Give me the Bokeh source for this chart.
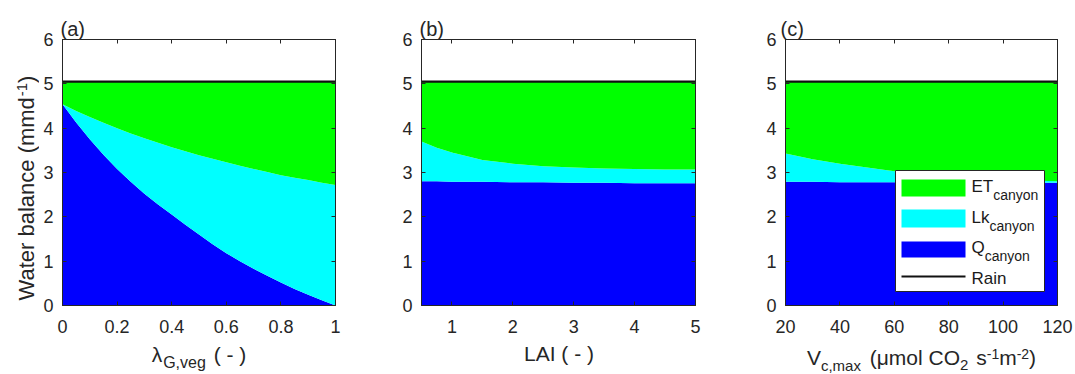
import math
from bokeh.plotting import figure
from bokeh.layouts import row, column
from bokeh.models import (Range1d, FixedTicker, LinearAxis, Label, BoxAnnotation,
                          ColumnDataSource, Title)
from bokeh.embed import file_html
from bokeh.resources import INLINE

# ---------------- data ----------------
RAIN = 5.05

x_a = [0.0, 0.05, 0.1, 0.15, 0.2, 0.25, 0.3, 0.35, 0.4, 0.45, 0.5,
       0.55, 0.6, 0.65, 0.7, 0.75, 0.8, 0.85, 0.9, 0.95, 1.0]
q_a = [4.54, 4.13, 3.75, 3.40, 3.08, 2.79, 2.52, 2.28, 2.05, 1.82, 1.60,
       1.38, 1.18, 1.00, 0.83, 0.67, 0.52, 0.37, 0.24, 0.12, 0.00]
lk_a = [0.00, 0.26, 0.50, 0.72, 0.92, 1.09, 1.25, 1.39, 1.52, 1.66, 1.79,
        1.93, 2.05, 2.15, 2.25, 2.34, 2.42, 2.51, 2.59, 2.65, 2.72]
et_a = [0.50, 0.65, 0.79, 0.92, 1.04, 1.16, 1.27, 1.37, 1.47, 1.56, 1.65,
        1.73, 1.81, 1.89, 1.96, 2.03, 2.10, 2.16, 2.21, 2.27, 2.32]

x_b = [0.5, 0.75, 1.0, 1.5, 2.0, 2.5, 3.0, 3.5, 4.0, 4.5, 5.0]
q_b = [2.80, 2.80, 2.79, 2.79, 2.78, 2.78, 2.77, 2.77, 2.76, 2.76, 2.76]
lk_b = [0.90, 0.76, 0.66, 0.49, 0.42, 0.36, 0.34, 0.32, 0.32, 0.31, 0.31]
et_b = [1.34, 1.48, 1.59, 1.76, 1.84, 1.90, 1.93, 1.95, 1.96, 1.97, 1.97]

x_c = [20, 30, 40, 50, 60, 70, 80, 90, 100, 110, 120]
q_c = [2.79, 2.79, 2.78, 2.78, 2.78, 2.78, 2.78, 2.77, 2.77, 2.77, 2.77]
lk_c = [0.64, 0.51, 0.42, 0.33, 0.25, 0.19, 0.14, 0.11, 0.08, 0.05, 0.03]
et_c = [1.61, 1.74, 1.84, 1.93, 2.01, 2.07, 2.12, 2.16, 2.19, 2.22, 2.24]

yticks = [0, 1, 2, 3, 4, 5, 6]
ytick_labels = ["0", "1", "2", "3", "4", "5", "6"]
xticks_a = [0, 0.2, 0.4, 0.6, 0.8, 1]
xtick_labels_a = ["0", "0.2", "0.4", "0.6", "0.8", "1"]
xticks_b = [1, 2, 3, 4, 5]
xtick_labels_b = ["1", "2", "3", "4", "5"]
xticks_c = [20, 40, 60, 80, 100, 120]
xtick_labels_c = ["20", "40", "60", "80", "100", "120"]

panel_tags = ["(a)", "(b)", "(c)"]
legend_main = ["ET", "Lk", "Q", "Rain"]
legend_sub = ["canyon", "canyon", "canyon", ""]

# ---------------- style ----------------
FONT = "Liberation Sans"
TXT = "#262626"
C_Q, C_LK, C_ET = "#0000FF", "#00FFFF", "#00FF00"
B_TOP, FRAME_H, B_BOT = 39, 266, 36
MID_H = B_TOP + FRAME_H + B_BOT
PAGE_H = 374
BOT_H = PAGE_H - MID_H
TOTAL_W = 1074
MID = 0.35  # height of the text's middle above its baseline, in em

# Arial / Liberation Sans advance widths (per 1000 em)
AW = {' ': 278, '(': 333, ')': 333, ',': 278, '-': 333, '.': 278, '1': 556, '2': 556,
      'A': 667, 'C': 722, 'E': 667, 'G': 778, 'I': 278, 'L': 556, 'O': 778, 'Q': 778,
      'R': 722, 'T': 611, 'V': 667, 'W': 944, 'a': 556, 'b': 556, 'c': 500, 'd': 556,
      'e': 556, 'g': 556, 'i': 222, 'k': 500, 'l': 222, 'm': 833, 'n': 556, 'o': 556,
      'r': 333, 's': 500, 't': 278, 'v': 500, 'x': 500, 'y': 500, 'λ': 500, 'μ': 577}


def tw(s, size):
    return sum(AW.get(ch, 556) for ch in s) * size / 1000.0


def add_rich(p, x, y, pieces, x_off=0, y_off=0, center=False, vertical=False, color=TXT):
    """Place a run of text pieces whose common baseline passes through (x, y).
    pieces: (text, font px, raise px, extra gap px after)"""
    total = sum(tw(t, s) + g for t, s, d, g in pieces)
    cur = -total / 2.0 if center else 0.0
    for t, s, d, g in pieces:
        stripped = t.lstrip(" ")
        cur += tw(t[:len(t) - len(stripped)], s)
        if stripped:
            kw = dict(x=x, y=y, text=stripped, text_font=FONT, text_font_size=f"{s}px",
                      text_color=color, text_align="left", text_baseline="middle")
            up = d + MID * s
            if vertical:
                lab = Label(x_offset=x_off - up, y_offset=y_off + cur, angle=math.pi / 2, **kw)
            else:
                lab = Label(x_offset=x_off + cur, y_offset=y_off + up, **kw)
            p.add_layout(lab)
        cur += tw(stripped, s) + g


def text_fig(w, h, top=0, bottom=0):
    f = figure(width=w, height=h, x_range=Range1d(0, w), y_range=Range1d(0, h - top - bottom),
               x_axis_type=None, y_axis_type=None, min_border=0,
               min_border_top=top, min_border_bottom=bottom, title=None,
               output_backend="svg", toolbar_location=None,
               background_fill_color="white", border_fill_color="white")
    f.outline_line_color = None
    return f


def mirror_axis(ticks):
    return LinearAxis(ticker=FixedTicker(ticks=ticks),
                      major_label_overrides={t: "" for t in ticks},
                      major_label_text_font_size="0px", major_label_standoff=0,
                      major_tick_in=4, major_tick_out=0, minor_tick_line_color=None,
                      axis_line_color=TXT, major_tick_line_color=TXT)


def make_panel(width, left, right, x, q, lk, et, xr, xticks, xlabels, tag, tag_dx):
    p = figure(width=width, height=MID_H, x_range=Range1d(*xr), y_range=Range1d(0, 6),
               output_backend="svg", toolbar_location=None,
               title=Title(text=tag, align="left", offset=tag_dx, standoff=0,
                           text_font=FONT, text_font_size="20px", text_color=TXT,
                           text_font_style="normal", vertical_align="bottom"),
               min_border_left=left, min_border_right=right,
               min_border_top=B_TOP, min_border_bottom=B_BOT,
               background_fill_color="white", border_fill_color="white")
    p.grid.visible = False
    p.outline_line_color = TXT
    p.outline_line_width = 1

    src = ColumnDataSource(dict(x=x, q=q, lk=lk, et=et))
    p.varea_stack(["q", "lk", "et"], x="x", color=[C_Q, C_LK, C_ET], source=src)
    p.line(x, [RAIN] * len(x), line_color="#111111", line_width=2.2)

    for ax in (p.xaxis[0], p.yaxis[0]):
        ax.major_tick_in = 4
        ax.major_tick_out = 0
        ax.minor_tick_line_color = None
        ax.axis_line_color = TXT
        ax.major_tick_line_color = TXT
        ax.major_label_text_font = FONT
        ax.major_label_text_font_size = "18px"
        ax.major_label_text_color = TXT
    p.xaxis[0].ticker = FixedTicker(ticks=xticks)
    p.xaxis[0].major_label_overrides = dict(zip(xticks, xlabels))
    p.xaxis[0].major_label_standoff = 14
    p.yaxis[0].ticker = FixedTicker(ticks=yticks)
    p.yaxis[0].major_label_overrides = dict(zip(yticks, ytick_labels))
    p.yaxis[0].major_label_standoff = 9

    p.add_layout(mirror_axis(yticks), "right")
    p.add_layout(mirror_axis(xticks), "above")
    return p


pa = make_panel(342, 23, 46, x_a, q_a, lk_a, et_a, (0, 1), xticks_a, xtick_labels_a,
                panel_tags[0], -2)
pb = make_panel(362, 40, 48, x_b, q_b, lk_b, et_b, (0.5, 5), xticks_b, xtick_labels_b,
                panel_tags[1], -2)
pc = make_panel(331, 42, 17, x_c, q_c, lk_c, et_c, (20, 120), xticks_c, xtick_labels_c,
                panel_tags[2], -5)

# ---- left strip: y axis title (frame aligned with the panels' frames) ----
ylab = text_fig(39, MID_H, top=B_TOP, bottom=B_BOT)
add_rich(ylab, 34, 5, [("Water balance (mmd", 22, 0, 0), ("-1", 15, 7, 0), (")", 22, 0, 0)],
         vertical=True)

# ---- bottom strip: x axis titles (baselines in px above the page bottom) ----
bot = text_fig(TOTAL_W, BOT_H)
add_rich(bot, 198.5, 13, [("λ", 21, 0, 1), ("G,veg", 16, -7, 2), (" ( - )", 21, 0, 0)],
         center=True)
add_rich(bot, 558.5, 14, [("LAI ( - )", 21, 0, 0)], center=True)
add_rich(bot, 921, 10, [("V", 21, 0, 0), ("c,max", 15, -6, 3), (" (", 21, 0, 0),
                        ("μ", 21, 0, 0), ("mol CO", 21, 0, 0), ("2", 15, -6, 2),
                        (" s", 21, 0, 0), ("-1", 14, 6, 0), ("m", 21, 0, 0),
                        ("-2", 14, 6, 0), (")", 21, 0, 0)], center=True)

# ---- legend in panel (c); geometry in px from the frame's top-left corner ----
FW, FH = 272.0, float(FRAME_H)


def lx(px):
    return 20 + px * 100.0 / FW


def ly(py):
    return 6 - py * 6.0 / FH


pc.add_layout(BoxAnnotation(left=lx(110), right=lx(259), top=ly(131), bottom=ly(252),
                            fill_color="white", fill_alpha=1, line_color=TXT,
                            line_width=1, line_alpha=1))
for (t0, t1, col) in [(140, 157, C_ET), (170, 188, C_LK), (202, 218, C_Q)]:
    pc.add_layout(BoxAnnotation(left=lx(116), right=lx(180), top=ly(t0), bottom=ly(t1),
                                fill_color=col, fill_alpha=1, line_alpha=0))
pc.add_layout(BoxAnnotation(left=lx(116), right=lx(180), top=ly(236), bottom=ly(238),
                            fill_color="#111111", fill_alpha=1, line_alpha=0))
for name, sub, yb in zip(legend_main, legend_sub, [153, 184, 214, 245]):
    pieces = [(name, 17, 0, 0)]
    if sub:
        pieces.append((sub, 14, -7, 0))
    add_rich(pc, lx(186), ly(yb), pieces, color="#1a1a1a")

layout = column(row(ylab, pa, pb, pc), bot)
open("out.html", "w").write(file_html(layout, INLINE))
